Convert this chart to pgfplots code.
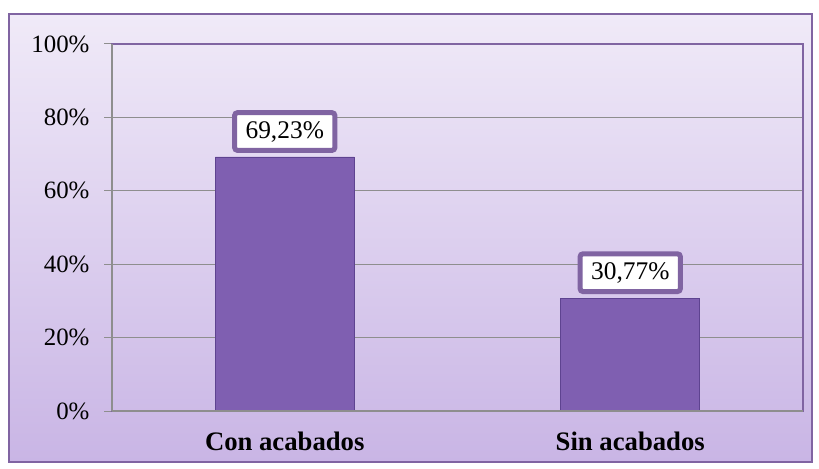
\documentclass[border=0pt]{standalone}
\usepackage{pgfplots}
\pgfplotsset{compat=1.18}
\usepackage{fontspec}
\setmainfont{Liberation Serif}
\definecolor{bgtop}{HTML}{F0EAF8}
\definecolor{bgbot}{HTML}{C9B5E5}
\definecolor{barc}{HTML}{7F5FB1}
\definecolor{bardark}{HTML}{5E4390}
\definecolor{frame}{HTML}{8064A2}
\definecolor{gridc}{HTML}{8E8E8E}
\begin{document}
\begin{tikzpicture}
\useasboundingbox (0,0) rectangle (819bp,469bp);
\shade[top color=bgtop, bottom color=bgbot] (9bp,7bp) rectangle (812bp,455bp);
\draw[frame, line width=1.5bp] (9bp,7bp) rectangle (812bp,455bp);
\begin{axis}[
  at={(112bp,58bp)}, anchor=south west,
  scale only axis, width=691bp, height=367bp,
  xmin=-0.5, xmax=1.5, ymin=0, ymax=100,
  axis line style={frame, line width=1.2bp},
  ybar, bar width=139bp,
  xtick={0,1}, xticklabels={Con acabados, Sin acabados},
  major x tick style={draw=none},
  extra x ticks={-0.5,0.5,1.5}, extra x tick labels={},
  extra x tick style={tick style={draw=gridc, line width=1bp}, major tick length=8bp, tick align=outside, grid=none},
  ytick={0,20,40,60,80,100},
  yticklabel={\pgfmathprintnumber{\tick}\%},
  /pgf/number format/assume math mode=true,
  ymajorgrids, grid style={gridc, line width=1bp},
  y tick style={draw=gridc, line width=1bp},
  major tick length=8bp, tick align=outside,
  yticklabel style={font=\fontsize{25}{30}\selectfont, xshift=-11bp},
  xticklabel style={font=\fontsize{26.8}{30}\selectfont\bfseries, yshift=-9bp},
  xtick pos=bottom, ytick pos=left,
  nodes near coords={\pgfmathprintnumber[fixed,precision=2,fixed zerofill,use comma]{\pgfplotspointmeta}\%},
  nodes near coords style={font=\fontsize{25.5}{30}\selectfont, fill=white, draw=frame, line width=5bp, rounded corners=3bp, inner xsep=11bp, inner ysep=8.5bp, anchor=south, yshift=4bp},
  clip=false,
]
\addplot[draw=bardark, line width=0.8bp, fill=barc] coordinates {(0,69.23) (1,30.77)};
\draw[gridc, line width=1.2bp] (axis cs:-0.5,0) -- (axis cs:-0.5,100);
\draw[gridc, line width=1.2bp] (axis cs:-0.5,0) -- (axis cs:1.5,0);
\end{axis}
\end{tikzpicture}
\end{document}
